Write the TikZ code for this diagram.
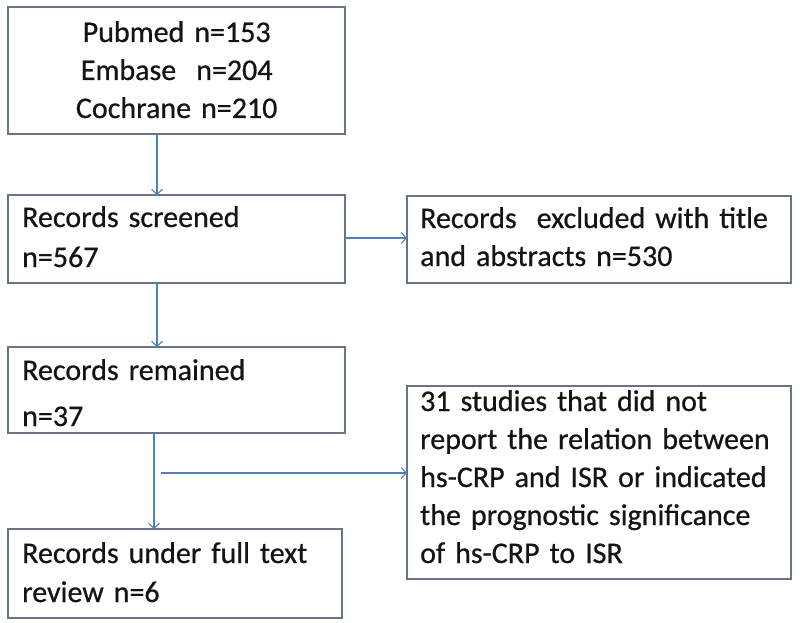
\documentclass[tikz,border=0pt]{standalone}
\usepackage{fontspec}
\setmainfont{Carlito}[FakeBold=0.6]
\usetikzlibrary{arrows.meta}
\definecolor{boxc}{RGB}{105,115,135}
\definecolor{arrc}{RGB}{79,129,189}
\definecolor{txtc}{RGB}{20,20,20}
\begin{document}
\begin{tikzpicture}[x=1pt,y=-1pt,
  box/.style={draw=boxc,line width=1.2pt,inner sep=0pt,outer sep=0pt,anchor=north west},
  txt/.style={anchor=base west,inner sep=0pt,text width=375pt,align=left,text=txtc,
    font=\fontsize{30}{38}\selectfont},
  arr/.style={draw=arrc,line width=1.1pt,-{Straight Barb[length=5pt,width=11pt,line width=1.1pt]}},
  ln/.style={draw=arrc,line width=1.1pt}]
\useasboundingbox (0,0) rectangle (800,623);
\fill[white] (0,0) rectangle (800,623);
% boxes
\node[box,minimum width=337pt,minimum height=127pt] (b1) at (8,7) {};
\node[box,minimum width=337pt,minimum height=88pt] (b2) at (8,195) {};
\node[box,minimum width=337pt,minimum height=86pt] (b3) at (8,347) {};
\node[box,minimum width=334pt,minimum height=89pt] (b4) at (8,529) {};
\node[box,minimum width=384pt,minimum height=87pt] (e1) at (407,196) {};
\node[box,minimum width=384pt,minimum height=193pt] (e2) at (407,386) {};
% texts
\node[txt,text width=337pt,align=center] (t1) at (8,42) {Pubmed n=153\\Embase\ \ n=204\\Cochrane n=210};
\node[txt] (t2) at (22,227) {Records screened\\[2pt]n=567};
\node[txt] (t3) at (420,228) {Records\ \ excluded with title\\and abstracts n=530};
\node[txt] (t4) at (22,380) {Records remained\\[8pt]n=37};
\node[txt] (t5) at (22,563) {Records under full text\\[1pt]review n=6};
\node[txt] (t6) at (420,411) {31 studies that did not\\report the relation between\\hs-CRP and ISR or indicated\\the prognostic significance\\of hs-CRP to ISR};
% connectors
\coordinate (xa) at (157,0);
\coordinate (xb) at (154,0);
\coordinate (h1) at (161,473);
\draw[arr] (b1.south -| xa) -- (b2.north -| xa);
\draw[arr] (b2.east |- 0,238) -- (e1.west |- 0,238);
\draw[arr] (b2.south -| xa) -- (b3.north -| xa);
\draw[arr] (b3.south -| xb) -- (b4.north -| xb);
\draw[arr] (h1) -- (h1 -| e2.west);
\end{tikzpicture}
\end{document}
